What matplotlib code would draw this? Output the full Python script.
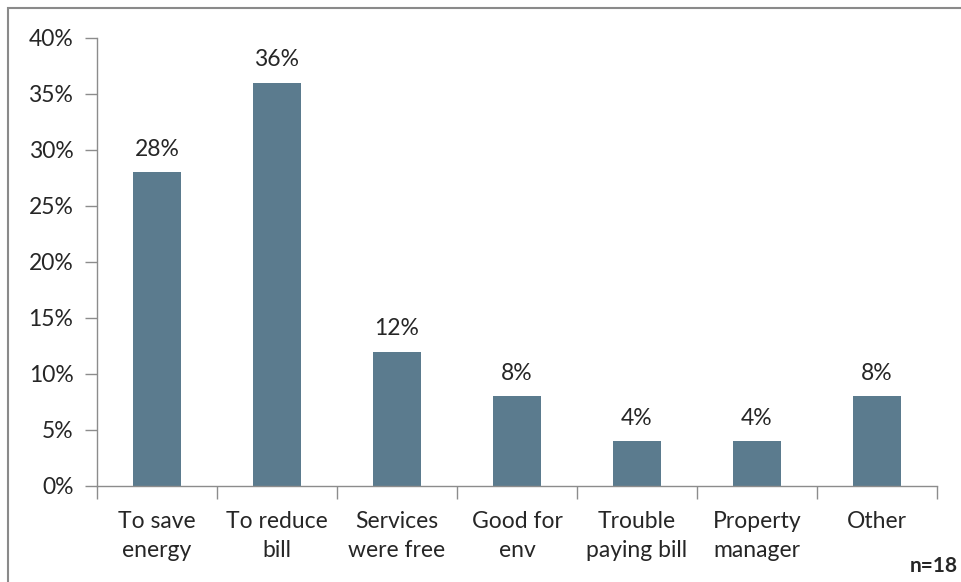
import matplotlib.pyplot as plt
from matplotlib.patches import Rectangle
from matplotlib.ticker import FixedLocator, PercentFormatter

plt.rcParams["font.family"] = ["Lato", "DejaVu Sans"]

categories = [
    "To save\nenergy",
    "To reduce\nbill",
    "Services\nwere free",
    "Good for\nenv",
    "Trouble\npaying bill",
    "Property\nmanager",
    "Other",
]
shares = [28, 36, 12, 8, 4, 4, 8]
sample_note = "n=18"

bar_color = "#5b7b8e"
axis_color = "#8c8c8c"
text_color = "#262626"
label_size = 16.5

fig = plt.figure(figsize=(9.61, 5.82), dpi=100)
ax = fig.add_axes([97 / 961, 1 - 486 / 582, 840 / 961, 448 / 582])

x = range(len(categories))
bars = ax.bar(x, shares, width=0.4, color=bar_color)

for bar, val in zip(bars, shares):
    ax.annotate(
        f"{val}%",
        (bar.get_x() + bar.get_width() / 2, val),
        xytext=(0, 9),
        textcoords="offset points",
        ha="center",
        va="bottom",
        fontsize=label_size,
        color=text_color,
    )

ax.set_xlim(-0.5, len(categories) - 0.5)
ax.set_ylim(0, 40)
ax.yaxis.set_major_locator(FixedLocator(range(0, 41, 5)))
ax.yaxis.set_major_formatter(PercentFormatter(decimals=0))

# category labels sit between boundary ticks
ax.set_xticks([i - 0.5 for i in range(len(categories) + 1)])
ax.set_xticklabels([])
ax.set_xticks(list(x), categories, minor=True)
ax.tick_params(axis="x", which="major", length=9, width=1, color=axis_color, direction="out")
ax.tick_params(axis="x", which="minor", length=0, pad=18, labelsize=label_size, labelcolor=text_color)
for lbl in ax.get_xticklabels(minor=True):
    lbl.set_linespacing(1.45)
ax.tick_params(axis="y", length=9, width=1, color=axis_color, direction="out",
               labelsize=label_size, labelcolor=text_color, pad=8)

for side in ("top", "right"):
    ax.spines[side].set_visible(False)
for side in ("left", "bottom"):
    ax.spines[side].set_color(axis_color)
    ax.spines[side].set_linewidth(1)

fig.text(958 / 961, 1 - 566 / 582, sample_note, ha="right", va="center",
         fontsize=15, fontweight="bold", color=text_color)

# thin frame along the top and left of the canvas
fig.patches.append(Rectangle((8 / 961, -0.1), 1.2, 1 - 8 / 582 + 0.1,
                             transform=fig.transFigure, fill=False,
                             edgecolor="#8a8a8a", linewidth=1.5))

fig.savefig("out.png", dpi=100)
